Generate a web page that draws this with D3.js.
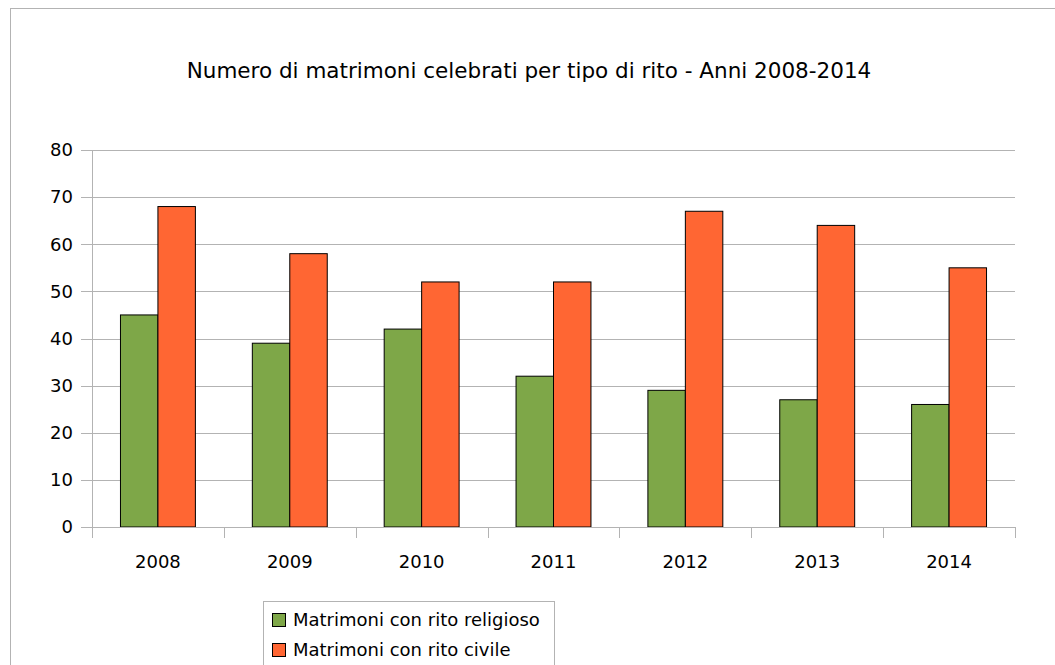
<!DOCTYPE html>
<html>
<head>
<meta charset="utf-8">
<script src="https://cdn.jsdelivr.net/npm/d3@7"></script>
<style>
  body { margin: 0; background: #fff; }
  svg text { font-family: "DejaVu Sans", sans-serif; fill: #000; }
</style>
</head>
<body>
<svg id="chart" width="1055" height="665"></svg>
<script>
// data
var years = ['2008', '2009', '2010', '2011', '2012', '2013', '2014'];
var religioso = [45, 39, 42, 32, 29, 27, 26];
var civile = [68, 58, 52, 52, 67, 64, 55];
var seriesNames = ['Matrimoni con rito religioso', 'Matrimoni con rito civile'];
var yTicks = [0, 10, 20, 30, 40, 50, 60, 70, 80];

var colors = ['#7ea748', '#ff6633'];
var series = [religioso, civile];

var svg = d3.select('#chart');

// outer frame
svg.append('rect')
  .attr('x', 10.5).attr('y', 8.5)
  .attr('width', 1100).attr('height', 700)
  .attr('fill', 'none').attr('stroke', '#b3b3b3');

// title
svg.append('text')
  .attr('x', 529).attr('y', 78)
  .attr('text-anchor', 'middle')
  .attr('font-size', 21.5)
  .text('Numero di matrimoni celebrati per tipo di rito - Anni 2008-2014');

var plotLeft = 92, plotRight = 1015, plotTop = 150, plotBottom = 527;

var x = d3.scaleBand().domain(years).range([plotLeft, plotRight]);
var x1 = d3.scaleBand().domain([0, 1]).range([0, x.bandwidth()]).paddingOuter(0.76).paddingInner(0);
var y = d3.scaleLinear().domain([0, 80]).range([plotBottom, plotTop]);

// gridlines
svg.append('g')
  .selectAll('line')
  .data(yTicks)
  .enter().append('line')
    .attr('x1', plotLeft - 11).attr('x2', plotRight)
    .attr('y1', function(d){ return Math.round(y(d)) + 0.5; })
    .attr('y2', function(d){ return Math.round(y(d)) + 0.5; })
    .attr('stroke', '#b3b3b3');

// y axis line
svg.append('line')
  .attr('x1', plotLeft + 0.5).attr('x2', plotLeft + 0.5)
  .attr('y1', plotTop).attr('y2', plotBottom)
  .attr('stroke', '#b3b3b3');

// y labels
svg.append('g')
  .selectAll('text')
  .data(yTicks)
  .enter().append('text')
    .attr('x', 73)
    .attr('y', function(d){ return y(d); })
    .attr('dy', '0.35em')
    .attr('text-anchor', 'end')
    .attr('font-size', 18)
    .text(function(d){ return d; });

// bars
years.forEach(function(yr, i){
  series.forEach(function(s, k){
    svg.append('rect')
      .attr('x', x(yr) + x1(k))
      .attr('y', y(s[i]))
      .attr('width', x1.bandwidth())
      .attr('height', plotBottom - y(s[i]))
      .attr('fill', colors[k])
      .attr('stroke', '#000')
      .attr('stroke-width', 1);
  });
});

// x axis line and ticks
svg.append('line')
  .attr('x1', plotLeft).attr('x2', plotRight)
  .attr('y1', plotBottom + 0.5).attr('y2', plotBottom + 0.5)
  .attr('stroke', '#b3b3b3');

var tickPos = years.map(function(d){ return x(d); }).concat([plotRight]);
svg.append('g')
  .selectAll('line')
  .data(tickPos)
  .enter().append('line')
    .attr('x1', function(d){ return Math.round(d) + 0.5; })
    .attr('x2', function(d){ return Math.round(d) + 0.5; })
    .attr('y1', plotBottom).attr('y2', plotBottom + 11)
    .attr('stroke', '#b3b3b3');

svg.append('g')
  .selectAll('text')
  .data(years)
  .enter().append('text')
    .attr('x', function(d){ return x(d) + x.bandwidth() / 2; })
    .attr('y', 568)
    .attr('text-anchor', 'middle')
    .attr('font-size', 18)
    .text(function(d){ return d; });

// legend
var legend = svg.append('g');
legend.append('rect')
  .attr('x', 263.5).attr('y', 601.5)
  .attr('width', 291).attr('height', 100)
  .attr('fill', '#fff').attr('stroke', '#b3b3b3');

seriesNames.forEach(function(name, k){
  var cy = 620 + k * 30;
  legend.append('rect')
    .attr('x', 272.5).attr('y', cy - 6.5)
    .attr('width', 13).attr('height', 13)
    .attr('fill', colors[k]).attr('stroke', '#000');
  legend.append('text')
    .attr('x', 293).attr('y', cy)
    .attr('dy', '0.35em')
    .attr('font-size', 18)
    .text(name);
});
</script>
</body>
</html>
